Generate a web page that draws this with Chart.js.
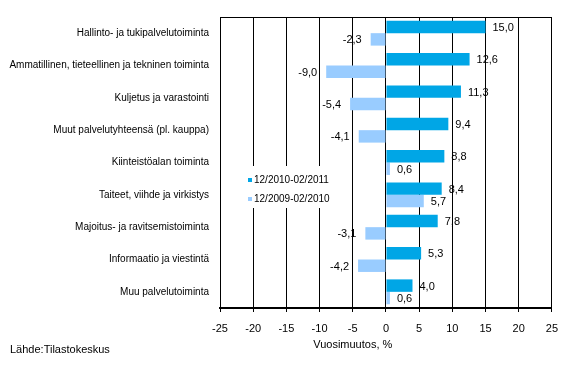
<!DOCTYPE html>
<html>
<head>
<meta charset="utf-8">
<script src="https://cdn.jsdelivr.net/npm/chart.js@4.4.1/dist/chart.umd.min.js"></script>
<style>
html,body{margin:0;padding:0;background:#fff;}
#wrap{width:568px;height:373px;position:relative;}
</style>
</head>
<body>
<div id="wrap"><canvas id="c" width="568" height="373"></canvas></div>
<script>
const categories = [
  "Hallinto- ja tukipalvelutoiminta",
  "Ammatillinen, tieteellinen ja tekninen toiminta",
  "Kuljetus ja varastointi",
  "Muut palvelutyhteensä (pl. kauppa)",
  "Kiinteistöalan toiminta",
  "Taiteet, viihde ja virkistys",
  "Majoitus- ja ravitsemistoiminta",
  "Informaatio ja viestintä",
  "Muu palvelutoiminta"
];
const series2011 = [15.0, 12.6, 11.3, 9.4, 8.8, 8.4, 7.8, 5.3, 4.0];
const series2010 = [-2.3, -9.0, -5.4, -4.1, 0.6, 5.7, -3.1, -4.2, 0.6];
const seriesLabels = ["12/2010-02/2011", "12/2009-02/2010"];
const xTicks = [-25, -20, -15, -10, -5, 0, 5, 10, 15, 20, 25];
const axisTitle = "Vuosimuutos, %";
const sourceText = "Lähde:Tilastokeskus";

const FONT = "'Liberation Sans', Arial, sans-serif";
const DARK = '#00a6e6';
const LIGHT = '#99ccff';

const fmt = v => v.toFixed(1).replace('.', ',');

const extras = {
  id: 'extras',
  beforeDatasetsDraw(chart) {
    const ctx = chart.ctx, a = chart.chartArea;
    ctx.save();
    ctx.strokeStyle = '#000';
    ctx.lineWidth = 1;
    ctx.beginPath();
    ctx.moveTo(a.left, Math.round(a.top) + 0.5);
    ctx.lineTo(a.right, Math.round(a.top) + 0.5);
    ctx.stroke();
    ctx.restore();
  },
  afterDatasetsDraw(chart) {
    const ctx = chart.ctx;
    ctx.save();
    ctx.font = '11px ' + FONT;
    ctx.fillStyle = '#000';
    ctx.textBaseline = 'middle';
    chart.data.datasets.forEach((ds, di) => {
      const meta = chart.getDatasetMeta(di);
      meta.data.forEach((bar, i) => {
        const v = ds.data[i];
        if (v >= 0) {
          ctx.textAlign = 'left';
          ctx.fillText(fmt(v), bar.x + 7, bar.y + 1);
        } else {
          ctx.textAlign = 'right';
          ctx.fillText(fmt(v), bar.x - 9, bar.y + 1);
        }
      });
    });
    ctx.restore();
  },
  afterDraw(chart) {
    const ctx = chart.ctx, a = chart.chartArea;
    ctx.save();
    // legend inside plot
    ctx.fillStyle = '#fff';
    ctx.fillRect(243, 166, 82, 42);
    ctx.font = '10px ' + FONT;
    ctx.textBaseline = 'middle';
    ctx.textAlign = 'left';
    const ys = [180, 199];
    chart.data.datasets.forEach((ds, di) => {
      ctx.fillStyle = ds.backgroundColor;
      ctx.fillRect(248, ys[di] - 2, 4, 4);
      ctx.fillStyle = '#000';
      ctx.fillText(ds.label, 254, ys[di]);
    });
    // axis title
    ctx.font = '11px ' + FONT;
    ctx.textAlign = 'center';
    ctx.fillText(axisTitle, a.left + 0.4 * (a.right - a.left), 345);
    // source
    ctx.textAlign = 'left';
    ctx.fillText(sourceText, 10, 350);
    ctx.restore();
  }
};

new Chart(document.getElementById('c'), {
  type: 'bar',
  data: {
    labels: categories,
    datasets: [
      { label: seriesLabels[0], data: series2011, backgroundColor: DARK, categoryPercentage: 0.77, barPercentage: 1.0 },
      { label: seriesLabels[1], data: series2010, backgroundColor: LIGHT, categoryPercentage: 0.77, barPercentage: 1.0 }
    ]
  },
  options: {
    indexAxis: 'y',
    responsive: false,
    animation: false,
    devicePixelRatio: 1,
    layout: { padding: { top: 15, right: 16, left: 0, bottom: 0 } },
    plugins: { legend: { display: false }, tooltip: { enabled: false } },
    scales: {
      x: {
        type: 'linear',
        min: -25, max: 25,
        afterBuildTicks: s => { s.ticks = xTicks.map(v => ({ value: v })); },
        afterFit: s => { s.height = 65; },
        grid: { color: '#000', lineWidth: 1, tickLength: 4, drawTicks: true },
        border: { display: true, color: '#000', width: 2 },
        ticks: { color: '#000', font: { family: FONT, size: 11 }, padding: 10, callback: v => String(v) }
      },
      y: {
        afterFit: s => { s.width = 220; },
        grid: { display: false, drawTicks: false },
        border: { display: false },
        ticks: { color: '#000', font: { family: FONT, size: 10 }, padding: 11 }
      }
    }
  },
  plugins: [extras]
});
</script>
</body>
</html>
